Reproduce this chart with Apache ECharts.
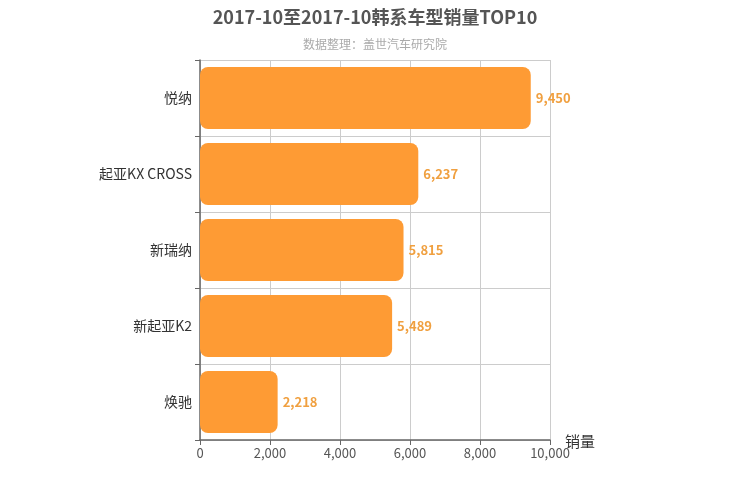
<!DOCTYPE html>
<html><head><meta charset="utf-8">
<script src="https://cdn.jsdelivr.net/npm/echarts@6/dist/echarts.min.js"></script>
<style>html,body{margin:0;padding:0;background:#fff}#c{width:750px;height:500px}</style>
</head><body><div id="c"></div>
<script>
const categories = ['悦纳', '起亚KX CROSS', '新瑞纳', '新起亚K2', '焕驰'];
const sales = [9450, 6237, 5815, 5489, 2218];
const xTicks = [0, 2000, 4000, 6000, 8000, 10000];

const chart = echarts.init(document.getElementById('c'));
const font = '"Noto Sans CJK SC", "Noto Sans", sans-serif';
chart.setOption({
  animation: false,
  textStyle: { fontFamily: font },
  title: {
    text: '2017-10至2017-10韩系车型销量TOP10',
    subtext: '数据整理：盖世汽车研究院',
    left: 'center', top: 3, itemGap: 12,
    textStyle: { fontSize: 18, fontWeight: 'bold', color: '#555', fontFamily: font },
    subtextStyle: { fontSize: 12, color: '#aaa', fontFamily: font }
  },
  grid: { left: 200, right: 200, top: 60, bottom: 60, containLabel: false },
  xAxis: {
    type: 'value', min: xTicks[0], max: xTicks[xTicks.length - 1], interval: 2000,
    name: '销量', nameLocation: 'end', nameGap: 15, nameMoveOverlap: false,
    nameTextStyle: { fontSize: 15, color: '#333', align: 'left', verticalAlign: 'top', padding: [-6, 0, 0, 0] },
    axisLine: { show: true, lineStyle: { color: '#666', width: 1.5 } },
    axisTick: { show: true, length: 5, lineStyle: { color: '#666' } },
    axisLabel: { fontSize: 13, color: '#555', margin: 7 },
    splitLine: { show: true, lineStyle: { color: '#ccc' } }
  },
  yAxis: {
    type: 'category', data: categories.slice().reverse(), inverse: false,
    axisLine: { show: true, lineStyle: { color: '#666', width: 1.5 } },
    axisTick: { show: true, length: 5, lineStyle: { color: '#666' } },
    axisLabel: { fontSize: 14, color: '#333', margin: 8 },
    splitLine: { show: true, lineStyle: { color: '#ccc' } }
  },
  series: [{
    type: 'bar', data: sales.slice().reverse(), barWidth: 62,
    itemStyle: { color: '#fe9b34', borderRadius: 8 },
    label: { show: true, position: 'right', color: '#f0a040', fontSize: 13, fontWeight: 'bold', distance: 5,
      formatter: p => p.value.toLocaleString('en-US') }
  }]
});
</script></body></html>
